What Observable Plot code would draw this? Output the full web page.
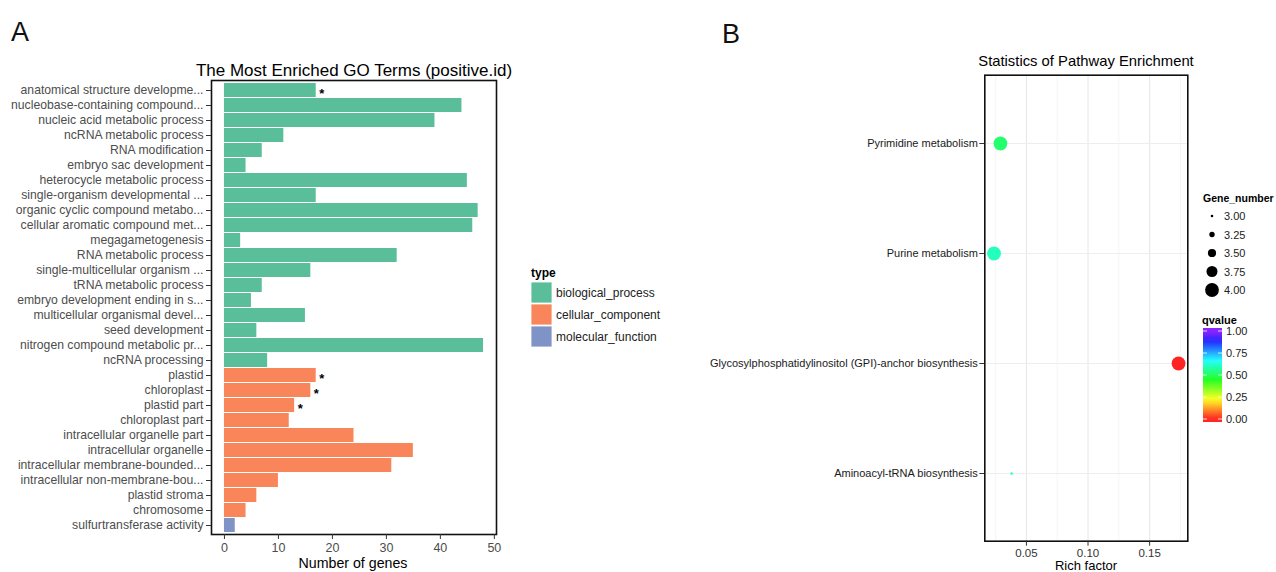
<!DOCTYPE html>
<html>
<head>
<meta charset="utf-8">
<script src="https://cdn.jsdelivr.net/npm/d3@7"></script>
<script src="https://cdn.jsdelivr.net/npm/@observablehq/plot@0.6"></script>
<style>
  html, body { margin: 0; padding: 0; background: #fff; }
  #wrap { position: relative; width: 1276px; height: 572px; overflow: hidden; background: #fff;
          font-family: "Liberation Sans", Arial, Helvetica, sans-serif; }
  .abs { position: absolute; top: 0; }
  .abs svg { display: block; }
</style>
</head>
<body>
<div id="wrap">
  <div id="plotA" class="abs" style="left:0px;width:520px;height:572px"></div>
  <div id="plotB" class="abs" style="left:700px;width:510px;height:572px"></div>
  <div id="overlay" class="abs" style="left:0px;width:1276px;height:572px;pointer-events:none"></div>
</div>
<script>
// ---------------- Panel A data ----------------
const goTerms = [
  "anatomical structure developme...",
  "nucleobase-containing compound...",
  "nucleic acid metabolic process",
  "ncRNA metabolic process",
  "RNA modification",
  "embryo sac development",
  "heterocycle metabolic process",
  "single-organism developmental ...",
  "organic cyclic compound metabo...",
  "cellular aromatic compound met...",
  "megagametogenesis",
  "RNA metabolic process",
  "single-multicellular organism ...",
  "tRNA metabolic process",
  "embryo development ending in s...",
  "multicellular organismal devel...",
  "seed development",
  "nitrogen compound metabolic pr...",
  "ncRNA processing",
  "plastid",
  "chloroplast",
  "plastid part",
  "chloroplast part",
  "intracellular organelle part",
  "intracellular organelle",
  "intracellular membrane-bounded...",
  "intracellular non-membrane-bou...",
  "plastid stroma",
  "chromosome",
  "sulfurtransferase activity"
];
const goCounts = [17,44,39,11,7,4,45,17,47,46,3,32,16,7,5,15,6,48,8,
                  17,16,13,12,24,35,31,10,6,4,
                  2];
const goTypes = [
  ...Array(19).fill("biological_process"),
  ...Array(10).fill("cellular_component"),
  "molecular_function"
];
const goSignificant = [
  "anatomical structure developme...", "plastid", "chloroplast", "plastid part"
];
const typeNames = ["biological_process", "cellular_component", "molecular_function"];
const typeColors = ["#5bbe9b", "#f9865a", "#8093c6"];
const goXTicks = [0, 10, 20, 30, 40, 50];

// ---------------- Panel B data ----------------
const pathways = [
  "Pyrimidine metabolism",
  "Purine metabolism",
  "Glycosylphosphatidylinositol (GPI)-anchor biosynthesis",
  "Aminoacyl-tRNA biosynthesis"
];
const richFactor = [0.0289, 0.0237, 0.1735, 0.038];
const geneNumber = [4, 4, 4, 3];
const qvalue = [0.52, 0.60, 0.0, 0.62];
const richTicks = [0.05, 0.10, 0.15];
const richMinor = [0.025, 0.075, 0.125, 0.175];
const sizeBreaks = [3.00, 3.25, 3.50, 3.75, 4.00];
const qBreaks = [1.00, 0.75, 0.50, 0.25, 0.00];

const FONT = "Liberation Sans, Arial, Helvetica, sans-serif";
const qInterp = t => d3.hsl(270 * t, 1, 0.57).formatHex();
const sizeRange = [1.3, 6.9];

// ---------------- Panel A ----------------
const goTable = goTerms.map((term, i) => ({term, count: goCounts[i], type: goTypes[i]}));
const goStars = goTable.filter(d => goSignificant.includes(d.term));

const plotA = Plot.plot({
  width: 520, height: 572,
  marginLeft: 211, marginRight: 24, marginTop: 80, marginBottom: 38,
  style: {fontFamily: FONT, background: "transparent"},
  x: {domain: [-2.4, 50.4], label: null},
  y: {domain: goTerms, paddingInner: 0.1, paddingOuter: 0.15, label: null},
  color: {domain: typeNames, range: typeColors},
  marks: [
    Plot.barX(goTable, {x: "count", y: "term", fill: "type"}),
    Plot.text(goStars, {x: "count", y: "term", text: () => "*", dx: 3, dy: 3,
                        textAnchor: "start", fontSize: 13, fontWeight: "bold", fill: "#000"}),
    Plot.frame({stroke: "#111", strokeWidth: 1.6}),
    Plot.axisY({tickSize: 5, tickPadding: 3, fontSize: 12.2, fill: "#4d4d4d", stroke: "#333", label: null}),
    Plot.axisX({ticks: goXTicks, tickSize: 5, tickPadding: 3.5, fontSize: 12.5, fill: "#4d4d4d", stroke: "#333", label: null})
  ]
});
document.getElementById("plotA").appendChild(plotA);

// ---------------- Panel B ----------------
const pwTable = pathways.map((name, i) => ({name, rich: richFactor[i], genes: geneNumber[i], q: qvalue[i]}));

const plotB = Plot.plot({
  width: 510, height: 572,
  marginLeft: 284.3, marginRight: 22.7, marginTop: 74.7, marginBottom: 31.3,
  style: {fontFamily: FONT, background: "transparent"},
  x: {domain: [0.0162, 0.181], label: null},
  y: {type: "point", domain: pathways, padding: 0.6, label: null},
  r: {type: "linear", domain: [3, 4], range: sizeRange},
  color: {type: "linear", domain: [0, 1], interpolate: qInterp},
  marks: [
    Plot.gridX(richMinor, {stroke: "#f3f3f3", strokeOpacity: 1, strokeWidth: 0.8}),
    Plot.gridX(richTicks, {stroke: "#e8e8e8", strokeOpacity: 1, strokeWidth: 1.1}),
    Plot.gridY({stroke: "#eeeeee", strokeOpacity: 1, strokeWidth: 1}),
    Plot.dot(pwTable, {x: "rich", y: "name", r: "genes", fill: "q"}),
    Plot.frame({stroke: "#111", strokeWidth: 1.6}),
    Plot.axisY({tickSize: 5, tickPadding: 2, fontSize: 11, fill: "#1a1a1a", stroke: "#333", label: null}),
    Plot.axisX({ticks: richTicks, tickFormat: d3.format(".2f"), tickSize: 5, tickPadding: 3, fontSize: 11.5, fill: "#333", stroke: "#333", label: null})
  ]
});
document.getElementById("plotB").appendChild(plotB);

// ---------------- Overlay: titles, labels, legends ----------------
const svg = d3.select("#overlay").append("svg")
  .attr("width", 1276).attr("height", 572)
  .style("font-family", FONT);

function txt(x, y, s, size, opts = {}) {
  return svg.append("text").attr("x", x).attr("y", y).text(s)
    .attr("font-size", size)
    .attr("text-anchor", opts.anchor || "start")
    .attr("font-weight", opts.weight || "normal")
    .attr("fill", opts.fill || "#000");
}

// panel letters
txt(11, 41, "A", 27, {fill: "#111"});
txt(722, 43, "B", 27, {fill: "#111"});

// titles
txt(354, 76, "The Most Enriched GO Terms (positive.id)", 17, {anchor: "middle"});
txt(1086, 66, "Statistics of Pathway Enrichment", 14.8, {anchor: "middle"});

// axis titles
txt(353, 568, "Number of genes", 14.2, {anchor: "middle"});
txt(1086, 570, "Rich factor", 13, {anchor: "middle"});

// legend A
txt(531, 277, "type", 12, {weight: "bold"});
typeNames.forEach((t, i) => {
  const y0 = 282 + i * 22;
  svg.append("rect").attr("x", 531).attr("y", y0).attr("width", 21).attr("height", 21)
    .attr("fill", typeColors[i]).attr("stroke", "#fff").attr("stroke-width", 0.8);
  txt(556, y0 + 15, t, 12, {fill: "#222"});
});

// legend B: size
const rScale = d3.scaleLinear([3, 4], sizeRange);
txt(1203, 202, "Gene_number", 10.5, {weight: "bold"});
sizeBreaks.forEach((v, i) => {
  const cy = 216 + i * 18.5;
  svg.append("circle").attr("cx", 1212).attr("cy", cy).attr("r", rScale(v)).attr("fill", "#000");
  txt(1224, cy + 4, v.toFixed(2), 11, {fill: "#222"});
});

// legend B: colour bar
txt(1202, 324, "qvalue", 11, {weight: "bold"});
const barX = 1203, barW = 19, yTop = 328, yBot = 422, y1 = 331, y0v = 419;
const qToY = d3.scaleLinear([0, 1], [y0v, y1]);
const defs = svg.append("defs");
const grad = defs.append("linearGradient").attr("id", "qgrad")
  .attr("x1", 0).attr("y1", 1).attr("x2", 0).attr("y2", 0);
d3.range(0, 1.0001, 0.05).forEach(s => {
  const v = qToY.invert(yBot - s * (yBot - yTop));
  grad.append("stop").attr("offset", s).attr("stop-color", qInterp(Math.max(0, Math.min(1, v))));
});
svg.append("rect").attr("x", barX).attr("y", yTop).attr("width", barW).attr("height", yBot - yTop)
  .attr("fill", "url(#qgrad)");
qBreaks.forEach(v => {
  const y = qToY(v);
  svg.append("line").attr("x1", barX).attr("x2", barX + 4).attr("y1", y).attr("y2", y).attr("stroke", "#fff").attr("stroke-width", 0.8);
  svg.append("line").attr("x1", barX + barW - 4).attr("x2", barX + barW).attr("y1", y).attr("y2", y).attr("stroke", "#fff").attr("stroke-width", 0.8);
  txt(1226, y + 4, v.toFixed(2), 11, {fill: "#222"});
});
</script>
</body>
</html>
